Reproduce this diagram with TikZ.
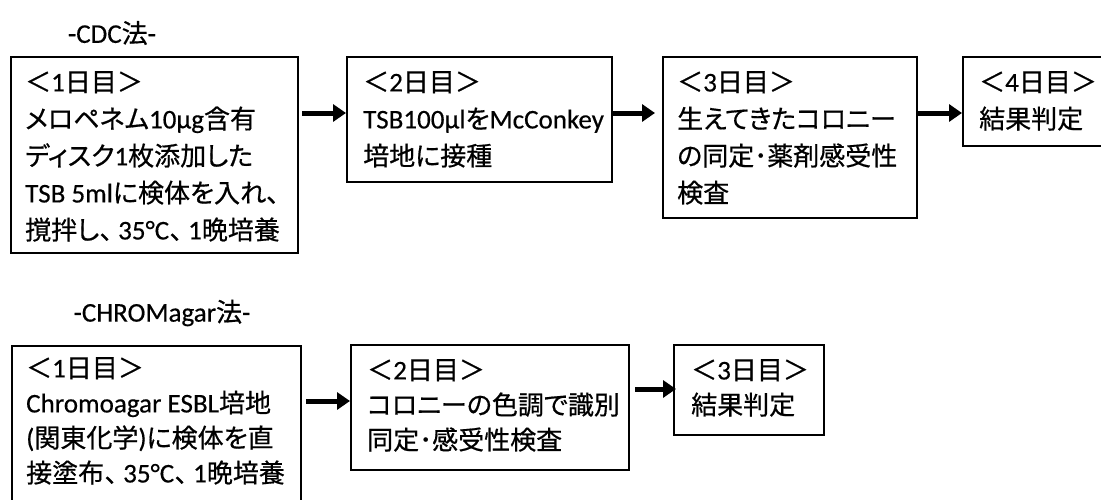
\documentclass[tikz,border=0pt]{standalone}
\usepackage{fontspec}
\newfontfamily\cjk[FakeBold=0.6,RawFeature=+palt]{Noto Sans CJK JP}
\newfontfamily\cjkn[FakeBold=0.6]{Noto Sans CJK JP}
\newfontfamily\latf[FakeBold=0.4,Scale=1.04]{Carlito}
\newcommand\LT[1]{{\latf #1}}
\newcommand\tcm{{\cjkn\kern1pt ､\kern5pt}}
\usetikzlibrary{arrows.meta,calc}
\begin{document}
\begin{tikzpicture}[x=1pt,y=-1pt,
  box/.style={draw,line width=1.8pt,inner sep=0pt,outer sep=0pt,anchor=north west},
  txt/.style={inner sep=0pt,anchor=north west,align=left,font=\cjk\fontsize{26}{37}\selectfont},
  txtb/.style={txt,font=\cjk\fontsize{26}{35}\selectfont},
  ttl/.style={inner sep=0pt,font=\cjk\fontsize{26}{30}\selectfont},
  arr/.style={line width=5pt,-{Triangle[length=13pt,width=17pt]}}]
\useasboundingbox (0,0) rectangle (1101,499);
\clip (0,0) rectangle (1101,499);
\fill[white] (0,0) rectangle (1101,499);
% titles
\node[ttl] (h1) at (112,33) {\LT{-CDC}法\LT{-}};
\node[ttl] (h2) at (162,313) {\LT{-CHROMagar}法\LT{-}};
% CDC row
\node[box,minimum width=287pt,minimum height=196pt] (b1) at (11,57) {};
\node[box,minimum width=265pt,minimum height=125pt] (b2) at (347,57) {};
\node[box,minimum width=254pt,minimum height=161pt] (b3) at (663,57) {};
\node[box,minimum width=145pt,minimum height=89pt] (b4) at (963,57) {};
\node[txt] (t1) at ($(b1.north west)+(14,14)$) {＜\LT{1}日目＞\\メロペネム\LT{10μg}含有\\ディスク\LT{1}枚添加した\\\LT{TSB 5ml}に検体を入れ、\\撹拌し\tcm\LT{35°C}\tcm\LT{1}晩培養};
\node[txt] (t2) at ($(b2.north west)+(16,14)$) {＜\LT{2}日目＞\\\LT{TSB100μl}を\LT{McConkey}\\培地に接種};
\node[txt] (t3) at ($(b3.north west)+(14,14)$) {＜\LT{3}日目＞\\生えてきたコロニー\\の同定･薬剤感受性\\検査};
\node[txt] (t4) at ($(b4.north west)+(16,14)$) {＜\LT{4}日目＞\\結果判定};
\draw[arr] ($(b1.north east)+(4,56)$) -- ($(b2.north west)+(-1,56)$);
\draw[arr] ($(b2.north east)+(1,56)$) -- ($(b3.north west)+(-8,56)$);
\draw[arr] ($(b3.north east)+(1,56)$) -- ($(b4.north west)+(-1,56)$);
% CHROMagar row
\node[box,minimum width=289pt,minimum height=160pt] (b5) at (12,346) {};
\node[box,minimum width=278pt,minimum height=125pt] (b6) at (351,345) {};
\node[box,minimum width=150pt,minimum height=90pt] (b7) at (674,345) {};
\node[txtb] (t5) at ($(b5.north west)+(14,11)$) {＜\LT{1}日目＞\\\LT{Chromoagar ESBL}培地\\\LT{(}関東化学\LT{)}に検体を直\\接塗布\tcm\LT{35°C}\tcm\LT{1}晩培養};
\node[txtb] (t6) at ($(b6.north west)+(16,14)$) {＜\LT{2}日目＞\\コロニーの色調で識別\\同定･感受性検査};
\node[txtb] (t7) at ($(b7.north west)+(17,14)$) {＜\LT{3}日目＞\\結果判定};
\draw[arr] ($(b5.north east)+(5,55)$) -- ($(b6.north west)+(-1,56)$);
\draw[arr] ($(b6.north east)+(6,44)$) -- ($(b7.north west)+(2,44)$);
\end{tikzpicture}
\end{document}
